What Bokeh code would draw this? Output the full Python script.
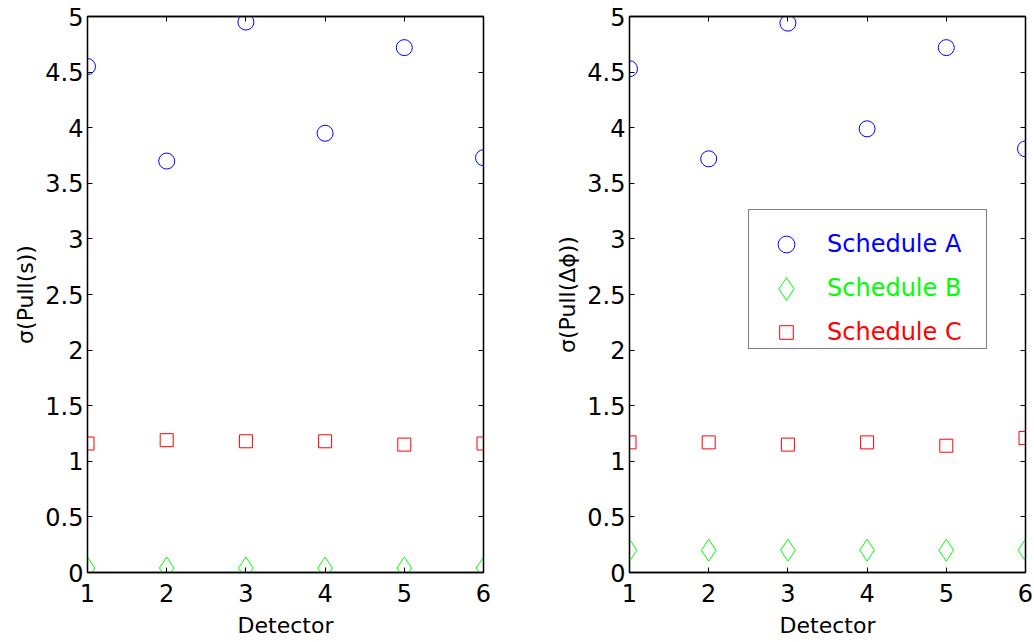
from bokeh.plotting import figure
from bokeh.layouts import row
from bokeh.models import (Range1d, LinearAxis, FixedTicker, NumeralTickFormatter,
                          CustomJSTickFormatter, Legend, LegendItem)
from bokeh.embed import file_html
from bokeh.resources import INLINE

# ---------------- data ----------------
detectors = [1, 2, 3, 4, 5, 6]
x_ticks = [1, 2, 3, 4, 5, 6]
y_ticks = [0, 0.5, 1, 1.5, 2, 2.5, 3, 3.5, 4, 4.5, 5]

left_A = [4.55, 3.70, 4.95, 3.95, 4.72, 3.73]
left_B = [0.04, 0.04, 0.04, 0.04, 0.04, 0.04]
left_C = [1.16, 1.19, 1.18, 1.18, 1.15, 1.16]

right_A = [4.53, 3.72, 4.94, 3.99, 4.72, 3.81]
right_B = [0.20, 0.20, 0.20, 0.20, 0.20, 0.20]
right_C = [1.17, 1.17, 1.15, 1.17, 1.14, 1.21]

series_names = ["Schedule A", "Schedule B", "Schedule C"]
series_colors = ["#0000ff", "#00ff00", "#ff0000"]

FONT = "DejaVu Sans"
TICK_SIZE = "24px"
LABEL_SIZE = "22px"


def style_axis(ax, show_labels=True):
    ax.axis_line_color = "black"
    ax.axis_line_width = 1.3
    ax.major_tick_in = 5
    ax.major_tick_out = 0
    ax.major_tick_line_color = "black"
    ax.major_tick_line_width = 1
    ax.minor_tick_line_color = None
    ax.major_label_text_font = FONT
    ax.major_label_text_color = "black"
    ax.axis_label_text_font = FONT
    ax.axis_label_text_font_size = LABEL_SIZE
    ax.axis_label_text_font_style = "normal"
    ax.axis_label_text_color = "black"
    ax.major_label_text_font_size = TICK_SIZE
    if show_labels:
        ax.major_label_standoff = 4
        ax.axis_label_standoff = 4
    else:
        ax.major_label_standoff = 0
        ax.formatter = CustomJSTickFormatter(code="return ''")


def make_panel(width, border_left, border_right, ylabel, A, B, C):
    p = figure(width=width, height=642, output_backend="svg", toolbar_location=None,
               x_range=Range1d(1, 6), y_range=Range1d(0, 5),
               min_border_left=border_left, min_border_right=border_right,
               min_border_top=16, min_border_bottom=70,
               x_axis_label="Detector", y_axis_label=ylabel)
    p.xgrid.visible = False
    p.ygrid.visible = False
    p.outline_line_color = "black"
    p.outline_line_width = 1.3
    p.background_fill_color = "white"
    p.border_fill_color = "white"

    p.add_layout(LinearAxis(), "above")
    p.add_layout(LinearAxis(), "right")
    for ax in p.below + p.above:
        style_axis(ax, show_labels=(ax in p.below))
        ax.ticker = FixedTicker(ticks=x_ticks)
    for ax in p.left + p.right:
        ax.ticker = FixedTicker(ticks=y_ticks)
        if ax in p.left:
            ax.formatter = NumeralTickFormatter(format="0.[0]")
        style_axis(ax, show_labels=(ax in p.left))
    for ax in p.below:
        ax.major_label_standoff = 11
        ax.axis_label_standoff = 8

    rA = p.scatter(detectors, A, marker="circle", size=16, fill_color=None,
                   line_color=series_colors[0], line_width=1)
    rB = p.scatter(detectors, B, marker="diamond", size=22, fill_color=None,
                   line_color=series_colors[1], line_width=1)
    rC = p.scatter(detectors, C, marker="square", size=13, fill_color=None,
                   line_color=series_colors[2], line_width=1)
    return p, [rA, rB, rC]


p1, _ = make_panel(552, 87, 69, "σ(Pull(s))", left_A, left_B, left_C)
p2, rends = make_panel(482, 77, 9, "σ(Pull(Δϕ))", right_A, right_B, right_C)

# legend frame (box only; glyphs and labels come from per-series legends below)
leg_x, leg_y = 119, 223
pad, gw, gh, sp, standoff, lw = 5, 68, 40, 4, 7, 152
dummy = p2.scatter([], [], marker="circle", size=1, line_alpha=0, fill_alpha=0)
box = Legend(items=[LegendItem(label="", renderers=[dummy]) for _ in series_names],
             location=(leg_x, leg_y), orientation="vertical",
             padding=pad, glyph_width=gw, glyph_height=gh, spacing=sp,
             label_standoff=standoff, label_width=lw,
             label_text_font=FONT, label_text_font_size="24px", label_text_alpha=0,
             border_line_color="black", border_line_width=1.3,
             background_fill_color="white", background_fill_alpha=1, margin=0)
p2.add_layout(box, "center")

# one transparent legend per series so each label gets its own colour
row_centers = [333, 289, 245]          # row centre heights above the frame bottom (px)
glyph_boxes = [42, 57, 34]              # legend glyph box height -> marker size 0.4*h
for n, c, r, cy, g in zip(series_names, series_colors, rends, row_centers, glyph_boxes):
    lg = Legend(items=[LegendItem(label=n, renderers=[r])],
                location=(leg_x + 4, cy - pad - g / 2), orientation="vertical",
                padding=pad, glyph_width=gw, glyph_height=g, spacing=0,
                label_standoff=standoff, label_width=lw - 8, label_height=g,
                label_text_font=FONT, label_text_font_size="24px",
                label_text_color=c, label_text_baseline="middle",
                border_line_color=None, background_fill_alpha=0, margin=0)
    p2.add_layout(lg, "center")

layout = row(p1, p2, spacing=0)
open("out.html", "w").write(file_html(layout, INLINE))
